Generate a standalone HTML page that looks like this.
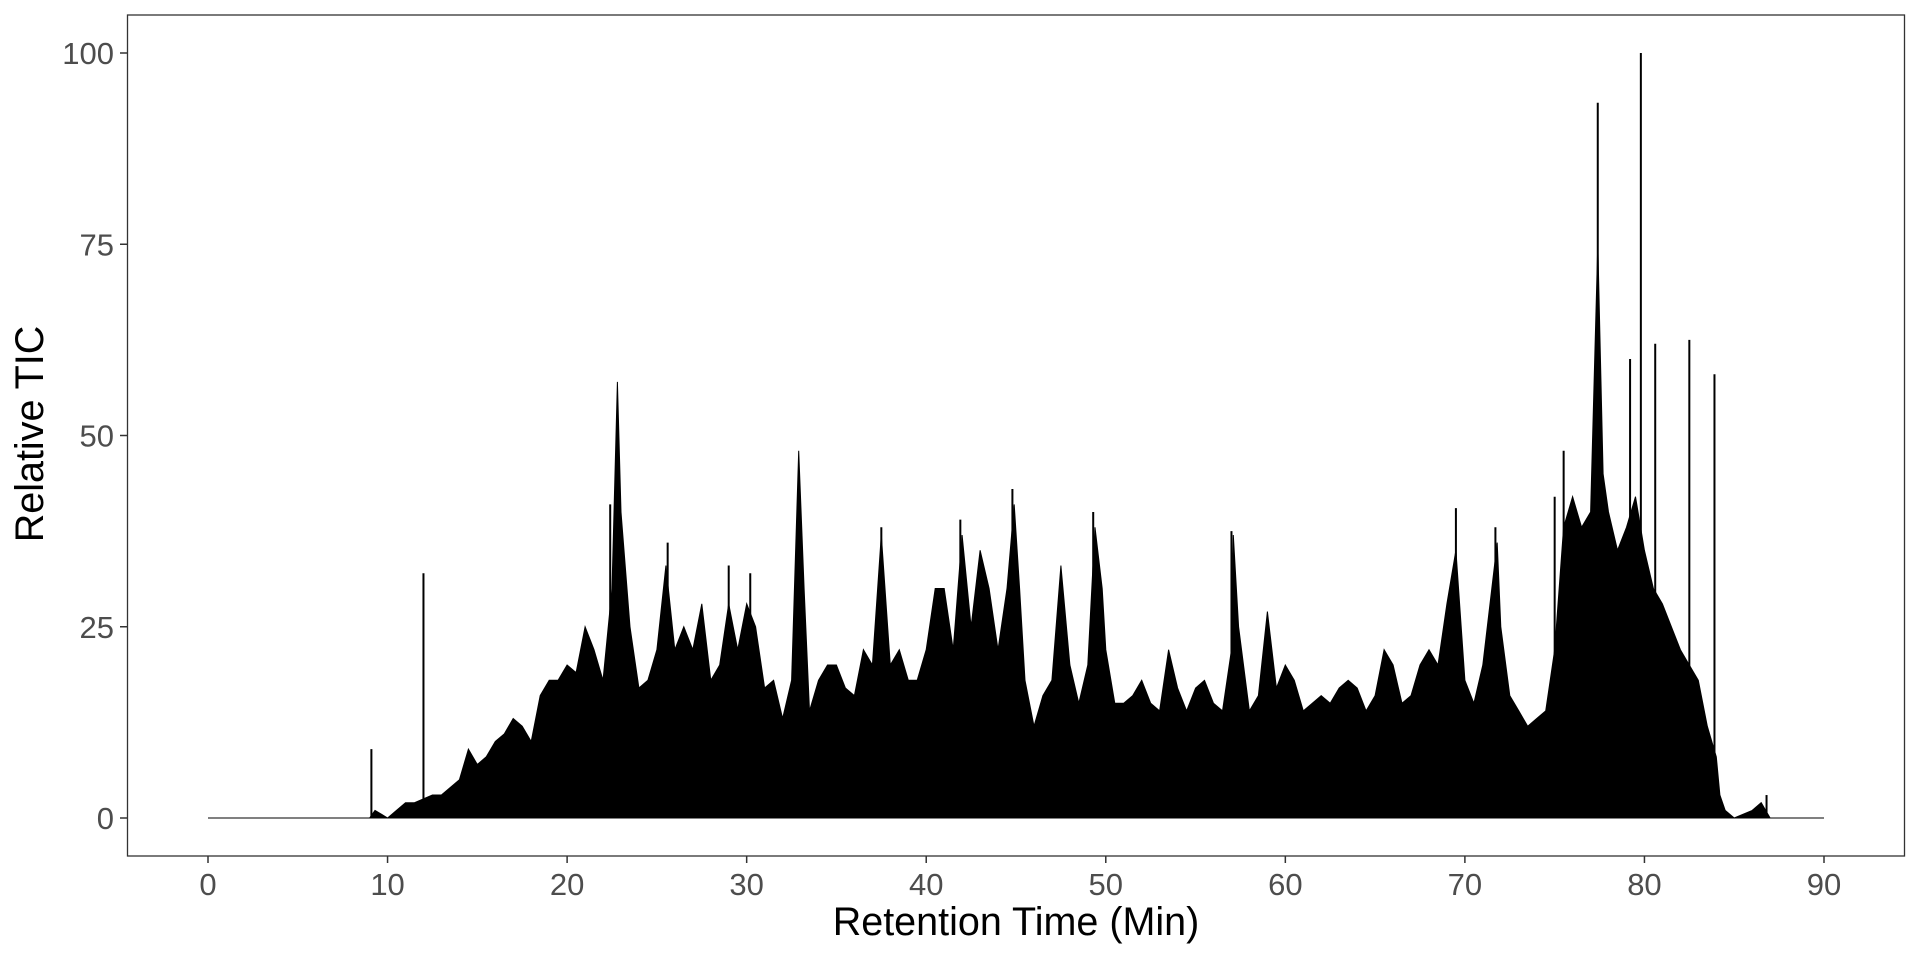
<!DOCTYPE html>
<html><head><meta charset="utf-8"><style>
body{margin:0;background:#fff}
svg text{font-family:"Liberation Sans",sans-serif}
</style></head><body>
<svg id="chart" width="1920" height="960" xmlns="http://www.w3.org/2000/svg">
<rect x="127.5" y="15" width="1777" height="841" fill="none" stroke="#333" stroke-width="1.3"/>
<g id="marks"></g>
<g id="axes"></g>
<text x="1016" y="935" font-size="39.5" text-anchor="middle" fill="#000">Retention Time (Min)</text>
<text transform="translate(43,434) rotate(-90)" font-size="39.5" text-anchor="middle" fill="#000">Relative TIC</text>
</svg>
<script>
const times=[0,9,9.3,10,10.5,11,11.5,12.5,13,13.5,14,14.5,15,15.5,16,16.5,17,17.5,18,18.5,19,19.5,20,20.5,21,21.5,22,22.5,22.8,23,23.5,24,24.5,25,25.5,26,26.5,27,27.5,28,28.5,29,29.5,30,30.5,31,31.5,32,32.5,32.9,33.2,33.5,34,34.5,35,35.5,36,36.5,37,37.5,38,38.5,39,39.5,40,40.5,41,41.5,42,42.5,43,43.5,44,44.5,44.9,45.2,45.5,46,46.5,47,47.5,48,48.5,49,49.4,49.8,50,50.5,51,51.5,52,52.5,53,53.5,54,54.5,55,55.5,56,56.5,57,57.1,57.4,58,58.5,59,59.5,60,60.5,61,61.5,62,62.5,63,63.5,64,64.5,65,65.5,66,66.5,67,67.5,68,68.5,69,69.5,70,70.5,71,71.5,71.8,72,72.5,73,73.5,74,74.5,75,75.5,76,76.5,77,77.4,77.7,78,78.5,79,79.5,80,80.5,81,81.5,82,82.5,83,83.5,84,84.2,84.5,85,86,86.5,87,90];
const tic=[0,0,1,0,1,2,2,3,3,4,5,9,7,8,10,11,13,12,10,16,18,18,20,19,25,22,18,30,57,40,25,17,18,22,33,22,25,22,28,18,20,28,22,28,25,17,18,13,18,48,30,14,18,20,20,17,16,22,20,37,20,22,18,18,22,30,30,22,37,25,35,30,22,30,41,30,18,12,16,18,33,20,15,20,38,30,22,15,15,16,18,15,14,22,17,14,17,18,15,14,22,37,25,14,16,27,17,20,18,14,15,16,15,17,18,17,14,16,22,20,15,16,20,22,20,28,35,18,15,20,30,36,25,16,14,12,13,14,22,38,42,38,40,75,45,40,35,38,42,35,30,28,25,22,20,18,12,8,3,1,0,1,2,0,0];
const spikeTimes=[9.1,12.0,22.4,25.6,29,30.2,37.5,41.9,44.8,49.3,57,69.5,71.7,75,75.5,77.4,79.2,79.8,80.6,82.5,83.9,86.8];
const spikeVals=[9,32,41,36,33,32,38,39,43,40,37.5,40.5,38,42,48,93.5,60,100,62,62.5,58,3];
const xTicks=[0,10,20,30,40,50,60,70,80,90];
const yTicks=[0,25,50,75,100];
const X=v=>208+v*(1824-208)/90;
const Y=v=>818-v*(818-53)/100;
const NS="http://www.w3.org/2000/svg";
const marks=document.getElementById('marks'),axes=document.getElementById('axes');
let pts=times.map((t,i)=>X(t).toFixed(1)+','+Y(tic[i]).toFixed(1));
pts.push(X(90)+','+Y(0),X(0)+','+Y(0));
const poly=document.createElementNS(NS,'polygon');
poly.setAttribute('points',pts.join(' '));
poly.setAttribute('fill','#000');poly.setAttribute('stroke','#000');poly.setAttribute('stroke-width','1');


marks.appendChild(poly);
spikeTimes.forEach((t,i)=>{
 const l=document.createElementNS(NS,'line');
 l.setAttribute('x1',X(t));l.setAttribute('x2',X(t));l.setAttribute('y1',Y(0));l.setAttribute('y2',Y(spikeVals[i]));
 l.setAttribute('stroke','#000');l.setAttribute('stroke-width','2');
 
 
 marks.appendChild(l);
});
xTicks.forEach(v=>{
 const l=document.createElementNS(NS,'line');
 l.setAttribute('x1',X(v));l.setAttribute('x2',X(v));l.setAttribute('y1',856);l.setAttribute('y2',863);
 l.setAttribute('stroke','#333');l.setAttribute('stroke-width','1.5');
 
 
 axes.appendChild(l);
 const t=document.createElementNS(NS,'text');
 t.setAttribute('x',X(v));t.setAttribute('y',895);t.setAttribute('font-size','31');t.setAttribute('fill','#4d4d4d');t.setAttribute('text-anchor','middle');
 t.textContent=v;
 
 
 axes.appendChild(t);
});
yTicks.forEach(v=>{
 const l=document.createElementNS(NS,'line');
 l.setAttribute('x1',120);l.setAttribute('x2',127.5);l.setAttribute('y1',Y(v));l.setAttribute('y2',Y(v));
 l.setAttribute('stroke','#333');l.setAttribute('stroke-width','1.5');
 
 
 axes.appendChild(l);
 const t=document.createElementNS(NS,'text');
 t.setAttribute('x',114);t.setAttribute('y',Y(v)+11);t.setAttribute('font-size','31');t.setAttribute('fill','#4d4d4d');t.setAttribute('text-anchor','end');
 t.textContent=v;
 
 
 axes.appendChild(t);
});
</script>
</body></html>
